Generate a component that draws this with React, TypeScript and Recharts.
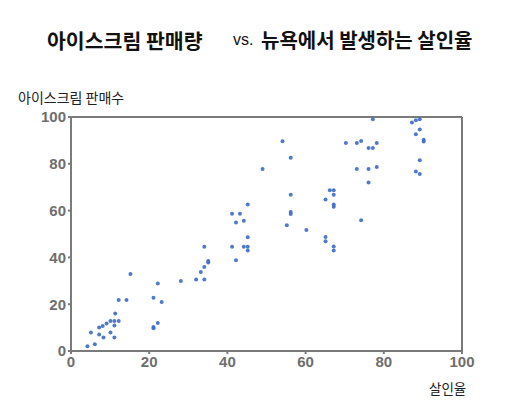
import { ScatterChart, Scatter, XAxis, YAxis, ReferenceLine } from 'recharts'

// 살인율 (x) / 아이스크림 판매수 (y)
const murderRate = [
  4.2, 6.1, 5.1, 7.2, 8.3, 7.2, 8.1, 9.1, 10.1, 10.1, 11.1, 11.1, 11.3, 11.1, 12.2, 12.2, 14.2, 15.2,
  21.1, 22.2, 23.2, 21.1, 21.1, 22.2, 28.1, 32, 34.1, 33.2, 34.1, 35.1, 35.1, 34.1,
  41.2, 42.2, 41.2, 42.2, 43.2, 44.2, 45.2, 45.2, 44.2, 45.2, 45.2,
  49, 54.1, 56.2, 56.2, 56.2, 56.2, 55.2, 60.2, 65.1, 65.1, 67.2, 67.2, 65.1, 66.2, 67.2, 67.2, 67.2, 67.2,
  74.2, 70.3, 73.1, 74.2, 76.1, 77.2, 78.2, 73.1, 76.1, 78.2, 76.1, 77.2,
  87.2, 88.2, 89.2, 88.2, 89.2, 90.2, 90.2, 89.2, 88.2, 89.2,
]
const iceCreamSales = [
  2, 2.9, 7.9, 7.1, 5.8, 10, 10.7, 11.7, 12.8, 7.9, 10.9, 12.8, 16, 5.8, 12.8, 21.8, 21.8, 32.9,
  22.8, 28.8, 20.9, 10.3, 9.7, 12, 29.9, 30.6, 30.6, 33.8, 35.9, 38.5, 37.8, 44.6,
  44.6, 38.8, 58.7, 54.9, 58.7, 55.7, 62.6, 48.6, 44.6, 44.6, 42.9,
  77.8, 89.6, 82.6, 66.8, 59.4, 58.6, 53.7, 51.7, 48.7, 46.9, 44.7, 43, 64.7, 68.7, 68.7, 66.8, 62.6, 61.6,
  55.9, 88.9, 88.9, 89.7, 86.8, 86.8, 88.9, 77.8, 77.8, 78.6, 72, 99,
  97.6, 98.6, 99, 92.6, 94.7, 90.3, 89.5, 81.5, 76.7, 75.6,
]
const axisTicks = [0, 20, 40, 60, 80, 100]

const points = murderRate.map((x, i) => ({ x, y: iceCreamSales[i] }))

const AXIS = '#7b7b7b'
const KR = '"Noto Sans CJK KR", "Noto Sans", sans-serif'

const Dot = (props: any) => <circle cx={props.cx} cy={props.cy} r={2} fill="#3d6cc2" fillOpacity={0.9} />

export default function App() {
  return (
    <div style={{ position: 'absolute', left: 0, top: 0, width: 505, height: 420, background: '#fff', fontFamily: KR }}>
      <div style={{ position: 'absolute', left: 47, top: 25, fontSize: 20.5, fontWeight: 700, color: '#111', whiteSpace: 'nowrap' }}>
        아이스크림 판매량
      </div>
      <div style={{ position: 'absolute', left: 233, top: 31, fontSize: 16, color: '#111', fontFamily: '"Liberation Sans", sans-serif' }}>
        vs.
      </div>
      <div style={{ position: 'absolute', left: 261, top: 25, fontSize: 20, fontWeight: 700, color: '#111', whiteSpace: 'nowrap' }}>
        뉴욕에서 발생하는 살인율
      </div>
      <div style={{ position: 'absolute', left: 18, top: 87, fontSize: 14, color: '#222', whiteSpace: 'nowrap' }}>
        아이스크림 판매수
      </div>
      <div style={{ position: 'absolute', left: 429, top: 378, fontSize: 13.5, color: '#222', whiteSpace: 'nowrap' }}>
        살인율
      </div>
      <ScatterChart width={505} height={420} margin={{ top: 117, right: 43, bottom: 39, left: 0 }}>
        <XAxis
          type="number" dataKey="x" domain={[0, 100]} ticks={axisTicks} height={30}
          stroke={AXIS} strokeWidth={2} tickSize={3}
          tick={{ fill: '#6e6e6e', fontSize: 15, fontFamily: '"Liberation Sans", sans-serif', fontWeight: 700 }}
        />
        <YAxis
          type="number" dataKey="y" domain={[0, 100]} ticks={axisTicks} width={71}
          stroke={AXIS} strokeWidth={2} tickSize={3}
          tick={{ fill: '#6e6e6e', fontSize: 15, fontFamily: '"Liberation Sans", sans-serif', fontWeight: 700 }}
        />
        <ReferenceLine y={100} stroke={AXIS} strokeWidth={2} />
        <ReferenceLine x={100} stroke={AXIS} strokeWidth={2} />
        <Scatter data={points} shape={Dot} isAnimationActive={false} />
      </ScatterChart>
    </div>
  )
}
